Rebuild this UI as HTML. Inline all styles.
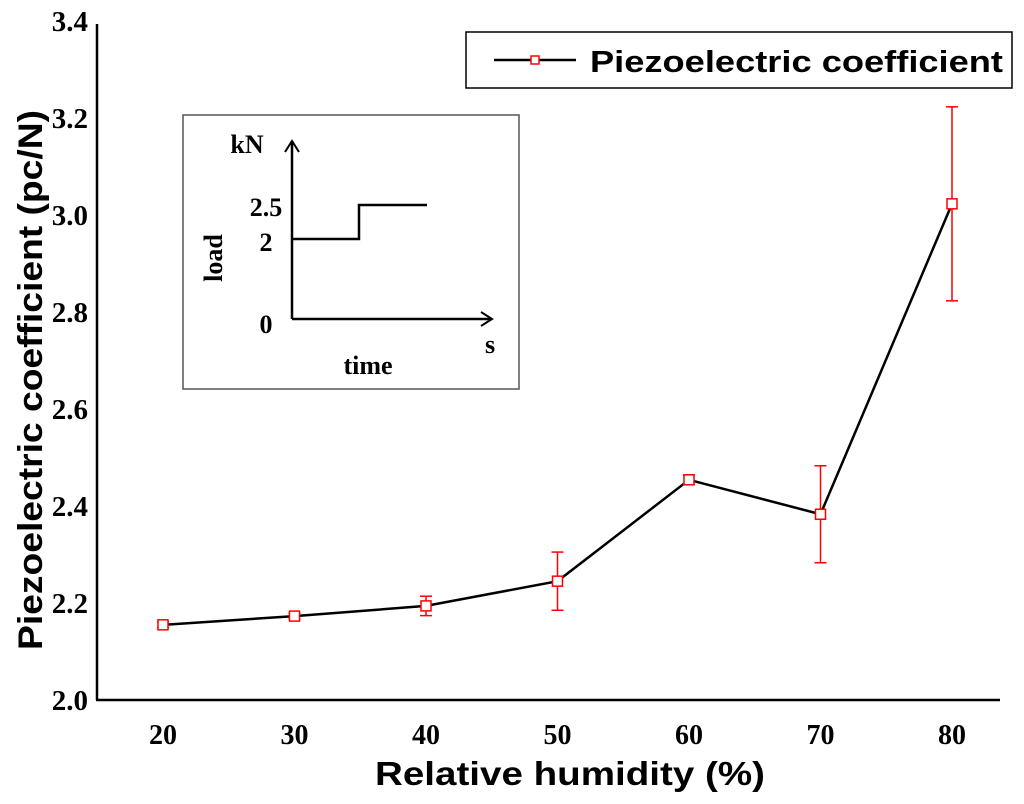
<!DOCTYPE html>
<html><head><meta charset="utf-8"><style>
body{margin:0;background:#fff}
svg text{font-family:"Liberation Serif",serif;font-weight:bold}
.sans{font-family:"Liberation Sans",sans-serif!important}
</style></head><body>
<svg id="chart" width="1024" height="799" viewBox="0 0 1024 799" xmlns="http://www.w3.org/2000/svg">
<g id="axes"></g>
<g id="series"></g>
<g>
<rect x="466" y="32" width="546" height="56" fill="#fff" stroke="#000" stroke-width="1.5"/>
<line x1="494" y1="60" x2="576" y2="60" stroke="#000" stroke-width="2.5"/>
<rect x="531" y="56" width="8" height="8" fill="#fff" stroke="#f00" stroke-width="1.5"/>
<text class="sans" x="590" y="72" font-size="31" textLength="413" lengthAdjust="spacingAndGlyphs">Piezoelectric coefficient</text>
</g>
<g>
<rect x="183" y="115" width="336" height="274" fill="#fff" stroke="#555" stroke-width="1.5"/>
<line x1="292" y1="319" x2="292" y2="142" stroke="#000" stroke-width="2.5"/>
<polyline points="285,152 292,141 299,152" fill="none" stroke="#000" stroke-width="2"/>
<line x1="292" y1="319" x2="492" y2="319" stroke="#000" stroke-width="2.5"/>
<polyline points="481,312 492,319 481,326" fill="none" stroke="#000" stroke-width="2"/>
<polyline points="292,239 359,239 359,205 427,205" fill="none" stroke="#000" stroke-width="2.5"/>
<text x="247" y="153" font-size="26" text-anchor="middle">kN</text>
<text x="266" y="216" font-size="26" text-anchor="middle">2.5</text>
<text x="266" y="251" font-size="26" text-anchor="middle">2</text>
<text x="266" y="333" font-size="26" text-anchor="middle">0</text>
<text x="490" y="353" font-size="26" text-anchor="middle">s</text>
<text x="368" y="374" font-size="26" text-anchor="middle">time</text>
<text x="0" y="0" font-size="26" text-anchor="middle" transform="translate(222,258) rotate(-90)">load</text>
</g>
<text class="sans" font-size="34" text-anchor="middle" textLength="540" lengthAdjust="spacingAndGlyphs" transform="translate(42,380) rotate(-90)">Piezoelectric coefficient (pc/N)</text>
<text class="sans" x="570" y="785" font-size="33" text-anchor="middle" textLength="390" lengthAdjust="spacingAndGlyphs">Relative humidity (%)</text>
</svg>
<script>
const categories=[20,30,40,50,60,70,80];
const values=[2.155,2.173,2.194,2.245,2.454,2.383,3.023];
const errors=[0.006,0.006,0.02,0.06,0.01,0.1,0.2];
const yTicks=["2.0","2.2","2.4","2.6","2.8","3.0","3.2","3.4"];
const NS="http://www.w3.org/2000/svg";
const x=c=>163+(c-20)*13.15;
const y=v=>700-(v-2)*485;
function mk(p,t,a){const e=document.createElementNS(NS,t);for(const k in a)e.setAttribute(k,a[k]);p.appendChild(e);return e;}
const ax=document.getElementById('axes'),se=document.getElementById('series');
let l=mk(ax,'line',{x1:97,y1:700,x2:97,y2:24,stroke:'#000','stroke-width':2.5});


l=mk(ax,'line',{x1:96,y1:700,x2:1000,y2:700,stroke:'#000','stroke-width':2.5});


yTicks.forEach(t=>{const e=mk(ax,'text',{x:88,y:y(parseFloat(t))+10,'font-size':29,'text-anchor':'end'});e.textContent=t;

});
categories.forEach(c=>{const e=mk(ax,'text',{x:x(c),y:744,'font-size':28,'text-anchor':'middle'});e.textContent=c;

});
const ln=mk(se,'polyline',{points:categories.map((c,i)=>x(c)+','+y(values[i])).join(' '),fill:'none',stroke:'#000','stroke-width':2.5});


categories.forEach((c,i)=>{const cx=x(c),t=y(values[i]+errors[i]),b=y(values[i]-errors[i]);
const g=mk(se,'g',{stroke:'#f00','stroke-width':1.5,fill:'none'});


mk(g,'line',{x1:cx,y1:t,x2:cx,y2:b});mk(g,'line',{x1:cx-6,y1:t,x2:cx+6,y2:t});mk(g,'line',{x1:cx-6,y1:b,x2:cx+6,y2:b});
const r=mk(se,'rect',{x:cx-5,y:y(values[i])-5,width:10,height:10,fill:'#fff',stroke:'#f00','stroke-width':1.5});

});
</script>
</body></html>
